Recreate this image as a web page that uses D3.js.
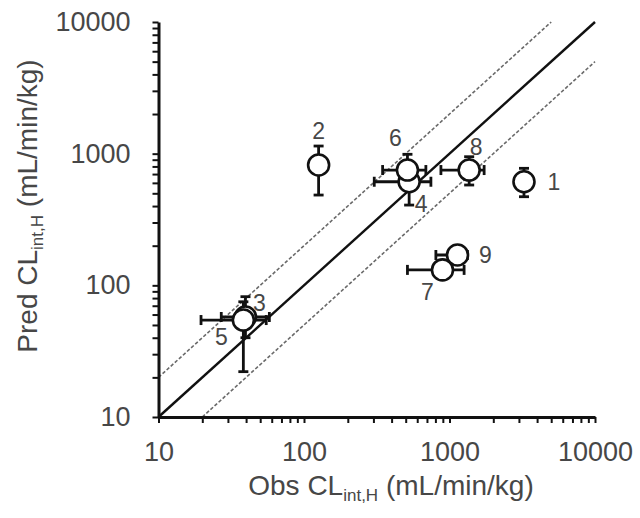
<!DOCTYPE html>
<html>
<head>
<meta charset="utf-8">
<script src="https://cdn.jsdelivr.net/npm/d3@7/dist/d3.min.js"></script>
<style>
  html, body { margin: 0; padding: 0; background: #fff; }
  svg { display: block; }
  text { font-family: "Liberation Sans", Arial, sans-serif; }
</style>
</head>
<body>
<svg id="chart" width="640" height="518"></svg>
<script>
// Compound ids, observed vs predicted hepatic intrinsic clearance (mL/min/kg)
const ids      = ["1", "2", "3", "4", "5", "6", "7", "8", "9"];
const obs      = [3250, 126, 39.6, 528, 38.3, 514, 895, 1365, 1135];
const obsLo    = [3250, 126, 27,   304, 19.6, 347, 514, 873,  806];
const obsHi    = [3250, 126, 57.8, 745, 55,   688, 1260, 1730, 1328];
const pred     = [612, 820, 57.5, 612, 54.5, 751, 131, 751, 170];
const predLo   = [471, 485, 40,   407, 22.1, 560, 118, 578, 150];
const predHi   = [774, 1143, 82,  850, 75,   989, 146, 948, 192];

// Axis ticks
const majorTicks = [10, 100, 1000, 10000];
const tickValues = [];
for (let dec = 10; dec < 10000; dec *= 10) {
  for (let m = 1; m < 10; m++) tickValues.push(dec * m);
}
tickValues.push(10000);

// Identity line and two-fold bounds
const refLines = [
  { from: 10, to: 10000, factor: 1,   dashed: false },
  { from: 10, to: 5000,  factor: 2,   dashed: true  },
  { from: 20, to: 10000, factor: 0.5, dashed: true  }
];

// Label placement around each marker (layout only)
const labelOffset = [[30, 0], [0, -34], [14, -14], [12, 22], [-22, 17], [-12, -32], [-15, 22], [7, -23], [28, 0]];

const svg = d3.select("#chart");
const x = d3.scaleLog().domain([10, 10000]).range([158.5, 595]);
const y = d3.scaleLog().domain([10, 10000]).range([417, 22]);
const textColor = "#474747";

// Reference lines
refLines.forEach(r => {
  svg.append("line")
    .attr("x1", x(r.from)).attr("y1", y(r.from * r.factor))
    .attr("x2", x(r.to)).attr("y2", y(r.to * r.factor))
    .attr("stroke", r.dashed ? "#6a6a6a" : "#111")
    .attr("stroke-width", r.dashed ? 1.6 : 2.4)
    .attr("stroke-dasharray", r.dashed ? "3.5,2" : null);
});

// Axes
const fmt = d => majorTicks.includes(d) ? String(d) : "";
const xAxis = svg.append("g").attr("transform", "translate(0,417)")
  .call(d3.axisBottom(x).tickValues(tickValues).tickFormat(fmt).tickSize(6).tickSizeOuter(0).tickPadding(19));
const yAxis = svg.append("g").attr("transform", "translate(158.5,0)")
  .call(d3.axisLeft(y).tickValues(tickValues).tickFormat(fmt).tickSize(6).tickSizeOuter(0).tickPadding(22));
[xAxis, yAxis].forEach(g => {
  g.select(".domain").attr("stroke", "#111").attr("stroke-width", 3);
  g.selectAll(".tick line").attr("stroke", "#111").attr("stroke-width", 2);
  g.selectAll(".tick text").attr("fill", textColor).attr("font-size", 27);
});

// Error bars
const cap = 5;
const bars = svg.append("g").attr("stroke", "#111").attr("stroke-width", 2.8).attr("fill", "none");
ids.forEach((id, i) => {
  const cx = x(obs[i]), cy = y(pred[i]);
  if (obsHi[i] > obsLo[i]) {
    const x1 = x(obsLo[i]), x2 = x(obsHi[i]);
    bars.append("line").attr("x1", x1).attr("x2", x2).attr("y1", cy).attr("y2", cy);
    [x1, x2].forEach(xx => bars.append("line").attr("x1", xx).attr("x2", xx).attr("y1", cy - cap).attr("y2", cy + cap));
  }
  if (predHi[i] > predLo[i]) {
    const y1 = y(predLo[i]), y2 = y(predHi[i]);
    bars.append("line").attr("x1", cx).attr("x2", cx).attr("y1", y1).attr("y2", y2);
    [y1, y2].forEach(yy => bars.append("line").attr("y1", yy).attr("y2", yy).attr("x1", cx - cap).attr("x2", cx + cap));
  }
});

// Markers
svg.append("g").selectAll("circle").data(ids).join("circle")
  .attr("cx", (d, i) => x(obs[i]))
  .attr("cy", (d, i) => y(pred[i]))
  .attr("r", 10.5)
  .attr("fill", "#fff")
  .attr("stroke", "#111")
  .attr("stroke-width", 2.6);

// Compound labels
svg.append("g").selectAll("text").data(ids).join("text")
  .attr("x", (d, i) => x(obs[i]) + labelOffset[i][0])
  .attr("y", (d, i) => y(pred[i]) + labelOffset[i][1])
  .attr("text-anchor", "middle")
  .attr("dominant-baseline", "central")
  .attr("font-size", 23)
  .attr("fill", textColor)
  .text(d => d);

// Axis titles with subscripted parameter
function title(sel, prefix) {
  sel.append("tspan").text(prefix + " CL");
  sel.append("tspan").attr("font-size", 17).attr("dy", 6).text("int,H");
  sel.append("tspan").attr("dy", -6).text(" (mL/min/kg)");
}
svg.append("text")
  .attr("x", 391).attr("y", 495)
  .attr("text-anchor", "middle").attr("font-size", 28).attr("fill", textColor)
  .call(title, "Obs");
svg.append("text")
  .attr("transform", "translate(37,206) rotate(-90)")
  .attr("text-anchor", "middle").attr("font-size", 28).attr("fill", textColor)
  .call(title, "Pred");
</script>
</body>
</html>
